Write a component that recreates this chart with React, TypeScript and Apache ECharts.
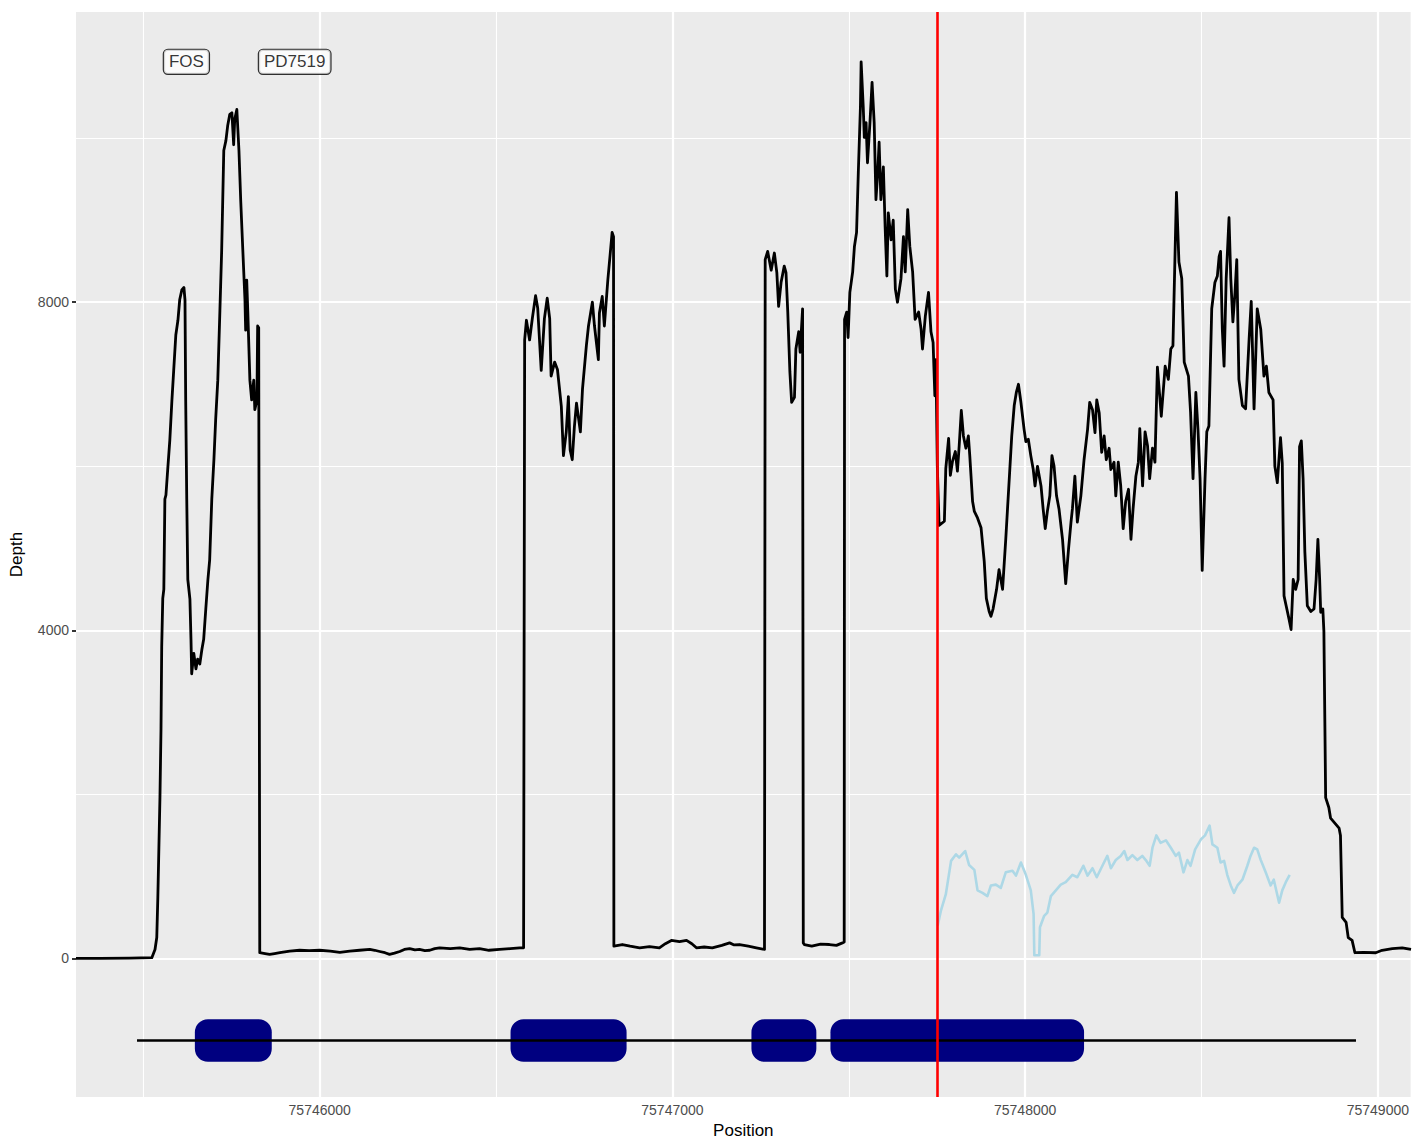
import React, { useEffect, useRef } from "react";
import * as echarts from "echarts";

// Total read depth along the locus: [position, depth]
const totalDepth: [number, number][] = [
  [75745309, 0], [75745377, 0], [75745462, 5], [75745524, 10], [75745533, 110], [75745538, 255],
  [75745541, 740], [75745544, 1350], [75745547, 1960], [75745550, 2800], [75745552, 3800],
  [75745555, 4390], [75745558, 4500], [75745561, 5600], [75745564, 5650], [75745569, 5960],
  [75745575, 6320], [75745581, 6810], [75745586, 7170], [75745592, 7600], [75745598, 7780],
  [75745603, 8030], [75745609, 8150], [75745615, 8180], [75745618, 8030], [75745620, 6810],
  [75745623, 5600], [75745626, 4620], [75745632, 4380], [75745635, 3890], [75745637, 3470],
  [75745643, 3720], [75745649, 3530], [75745654, 3650], [75745660, 3590], [75745666, 3770],
  [75745671, 3890], [75745677, 4260], [75745683, 4620], [75745688, 4860], [75745694, 5600],
  [75745700, 6080], [75745705, 6570], [75745711, 7050], [75745717, 7900], [75745722, 8630],
  [75745728, 9850], [75745734, 9970], [75745739, 10150], [75745745, 10290], [75745751, 10310],
  [75745756, 9920], [75745759, 10230], [75745765, 10350], [75745771, 9850], [75745776, 9240],
  [75745782, 8630], [75745788, 8030], [75745790, 7660], [75745793, 8270], [75745796, 7900],
  [75745802, 7050], [75745807, 6810], [75745813, 7050], [75745816, 6690], [75745822, 6810],
  [75745824, 7710], [75745827, 7690], [75745830, 70], [75745845, 60], [75745858, 50],
  [75745872, 60], [75745887, 70], [75745915, 90], [75745943, 100], [75745970, 95],
  [75746000, 100], [75746030, 90], [75746057, 75], [75746085, 90], [75746113, 100],
  [75746142, 110], [75746156, 100], [75746170, 85], [75746185, 70], [75746198, 50],
  [75746212, 65], [75746227, 85], [75746240, 110], [75746255, 120], [75746270, 105],
  [75746283, 110], [75746298, 95], [75746312, 100], [75746326, 120], [75746340, 130],
  [75746370, 120], [75746397, 130], [75746425, 110], [75746453, 120], [75746480, 100],
  [75746510, 110], [75746540, 120], [75746567, 130], [75746578, 130], [75746581, 7540],
  [75746586, 7780], [75746595, 7540], [75746603, 7810], [75746612, 8080], [75746618, 7930],
  [75746628, 7170], [75746637, 7800], [75746645, 8050], [75746652, 7800], [75746656, 7100],
  [75746666, 7270], [75746674, 7180], [75746685, 6730], [75746691, 6130], [75746699, 6420],
  [75746705, 6850], [75746710, 6200], [75746716, 6080], [75746722, 6480], [75746728, 6770],
  [75746739, 6420], [75746745, 6940], [75746756, 7470], [75746762, 7710], [75746773, 8000],
  [75746779, 7710], [75746790, 7300], [75746793, 7870], [75746801, 8070], [75746807, 7710],
  [75746817, 8280], [75746824, 8610], [75746829, 8850], [75746833, 8800], [75746834, 150],
  [75746858, 170], [75746880, 150], [75746907, 130], [75746935, 145], [75746963, 130],
  [75746980, 180], [75746997, 220], [75747020, 205], [75747040, 220], [75747055, 180],
  [75747068, 130], [75747090, 140], [75747113, 130], [75747140, 160], [75747162, 190],
  [75747175, 165], [75747190, 170], [75747215, 150], [75747238, 130], [75747261, 110],
  [75747263, 8520], [75747270, 8620], [75747280, 8390], [75747289, 8600], [75747296, 8360],
  [75747301, 7950], [75747308, 8240], [75747317, 8440], [75747322, 8360], [75747327, 7880],
  [75747333, 7150], [75747338, 6780], [75747346, 6840], [75747350, 7430], [75747358, 7640],
  [75747362, 7390], [75747369, 7920], [75747371, 190], [75747374, 170], [75747395, 150],
  [75747420, 175], [75747445, 170], [75747465, 160], [75747482, 190], [75747487, 200],
  [75747488, 7790], [75747494, 7880], [75747498, 7570], [75747503, 8120], [75747511, 8370],
  [75747516, 8680], [75747522, 8850], [75747527, 9580], [75747533, 10380], [75747535, 10930],
  [75747541, 10380], [75747544, 10010], [75747549, 10190], [75747553, 9700], [75747560, 10190],
  [75747566, 10680], [75747572, 10190], [75747577, 9250], [75747582, 9580], [75747586, 9950],
  [75747591, 9250], [75747598, 9650], [75747603, 8920], [75747608, 8320], [75747612, 9090],
  [75747620, 8760], [75747626, 9000], [75747632, 8160], [75747638, 8000], [75747648, 8290],
  [75747655, 8800], [75747660, 8370], [75747667, 9130], [75747673, 8680], [75747681, 8370],
  [75747688, 7790], [75747698, 7880], [75747705, 7670], [75747709, 7430], [75747717, 7830],
  [75747726, 8120], [75747733, 7640], [75747739, 7510], [75747744, 6860], [75747747, 7300],
  [75747751, 6000], [75747756, 5280], [75747771, 5330], [75747775, 5970], [75747783, 6340],
  [75747788, 5890], [75747794, 6060], [75747802, 6180], [75747808, 5940], [75747813, 6250],
  [75747819, 6680], [75747825, 6370], [75747832, 6220], [75747839, 6370], [75747843, 6130],
  [75747851, 5570], [75747856, 5450], [75747865, 5370], [75747875, 5250], [75747884, 4840],
  [75747890, 4390], [75747898, 4230], [75747903, 4170], [75747909, 4260], [75747919, 4500],
  [75747926, 4740], [75747936, 4500], [75747945, 5110], [75747955, 5850], [75747962, 6370],
  [75747969, 6740], [75747975, 6900], [75747981, 7000], [75747988, 6780], [75747997, 6450],
  [75748002, 6300], [75748009, 6330], [75748016, 6130], [75748023, 5960], [75748028, 5760],
  [75748035, 6000], [75748045, 5760], [75748051, 5480], [75748057, 5240], [75748063, 5450],
  [75748070, 5640], [75748076, 6130], [75748082, 6000], [75748089, 5640], [75748096, 5480],
  [75748106, 5110], [75748115, 4570], [75748123, 4990], [75748130, 5320], [75748134, 5480],
  [75748141, 5880], [75748148, 5320], [75748158, 5640], [75748167, 6080], [75748177, 6450],
  [75748183, 6780], [75748191, 6690], [75748198, 6410], [75748203, 6810], [75748210, 6650],
  [75748217, 6170], [75748224, 6370], [75748230, 6080], [75748238, 6220], [75748243, 5960],
  [75748252, 6050], [75748257, 5640], [75748264, 6050], [75748271, 5760], [75748278, 5240],
  [75748285, 5570], [75748293, 5720], [75748300, 5110], [75748306, 5480], [75748314, 5880],
  [75748321, 6050], [75748325, 6460], [75748333, 5760], [75748340, 6420], [75748347, 6250],
  [75748353, 5850], [75748361, 6220], [75748368, 6050], [75748375, 7210], [75748386, 6610],
  [75748397, 7220], [75748406, 7060], [75748413, 7430], [75748419, 7470], [75748429, 9340],
  [75748436, 8490], [75748444, 8290], [75748451, 7270], [75748463, 7100], [75748469, 6660],
  [75748476, 5850], [75748484, 6900], [75748490, 6450], [75748496, 5850], [75748502, 4730],
  [75748510, 5850], [75748515, 6420], [75748521, 6490], [75748529, 7920], [75748538, 8240],
  [75748545, 8320], [75748550, 8560], [75748554, 8620], [75748559, 7670], [75748564, 7220],
  [75748570, 8290], [75748578, 9030], [75748583, 8290], [75748589, 7760], [75748595, 8120],
  [75748600, 8520], [75748606, 7060], [75748616, 6740], [75748625, 6700], [75748635, 7550],
  [75748641, 8010], [75748649, 6700], [75748658, 7920], [75748668, 7670], [75748677, 7100],
  [75748684, 7220], [75748691, 6900], [75748703, 6810], [75748708, 6000], [75748715, 5800],
  [75748724, 6350], [75748729, 6040], [75748734, 4420], [75748740, 4300], [75748748, 4140],
  [75748754, 4010], [75748760, 4620], [75748767, 4500], [75748774, 4620], [75748778, 6240],
  [75748783, 6310], [75748788, 5850], [75748793, 4960], [75748800, 4300], [75748810, 4230],
  [75748819, 4260], [75748825, 4620], [75748830, 5110], [75748835, 4620], [75748838, 4220],
  [75748844, 4260], [75748847, 3990], [75748852, 1960], [75748861, 1840], [75748866, 1710],
  [75748890, 1590], [75748894, 1500], [75748899, 500], [75748910, 440], [75748916, 255],
  [75748927, 220], [75748935, 70], [75748960, 75], [75748994, 70], [75749012, 100],
  [75749041, 120], [75749069, 130], [75749094, 110],
];

// Second (light blue) depth track, starting at the variant
const altDepth: [number, number][] = [
  [75747752, 400], [75747761, 580], [75747775, 780], [75747790, 1190], [75747804, 1270],
  [75747813, 1230], [75747830, 1310], [75747841, 1140], [75747856, 1080], [75747865, 830],
  [75747879, 800], [75747893, 760], [75747903, 890], [75747917, 900], [75747931, 860],
  [75747945, 1050], [75747964, 1070], [75747974, 1010], [75747988, 1170], [75748002, 1020],
  [75748016, 830], [75748024, 540], [75748026, 40], [75748040, 40], [75748042, 380],
  [75748054, 520], [75748063, 560], [75748073, 760], [75748087, 830], [75748101, 900],
  [75748115, 930], [75748134, 1020], [75748148, 990], [75748165, 1130], [75748177, 1010],
  [75748191, 1100], [75748203, 990], [75748219, 1130], [75748233, 1250], [75748243, 1100],
  [75748257, 1200], [75748271, 1250], [75748281, 1310], [75748290, 1200], [75748304, 1260],
  [75748318, 1200], [75748332, 1250], [75748342, 1200], [75748353, 1130], [75748361, 1350],
  [75748372, 1500], [75748384, 1410], [75748399, 1440], [75748413, 1350], [75748427, 1250],
  [75748436, 1290], [75748449, 1050], [75748460, 1200], [75748469, 1130], [75748482, 1330],
  [75748498, 1450], [75748510, 1500], [75748523, 1620], [75748531, 1390], [75748545, 1350],
  [75748554, 1170], [75748564, 1190], [75748573, 1020], [75748583, 890], [75748592, 800],
  [75748602, 890], [75748616, 960], [75748630, 1130], [75748639, 1250], [75748649, 1350],
  [75748658, 1330], [75748668, 1200], [75748682, 1050], [75748696, 890], [75748705, 960],
  [75748720, 680], [75748729, 830], [75748739, 930], [75748750, 1020],
];

// Gene model
const exonStarts = [75745646, 75746541, 75747224, 75747448];
const exonEnds = [75745864, 75746870, 75747408, 75748167];
const exonTop = -740;
const exonBottom = -1260;
const geneSpan = [75745482, 75748938];
const geneLevel = -1000;

// Variant position
const variantPosition = 75747751;

// Labels
const labelNames = ["FOS", "PD7519"];
const labelPositions = [75745622, 75745929];
const labelDepth = 10930;

// Axes
const xMin = 75745309;
const xMax = 75749093;
const yMin = -1690;
const yMax = 11538;
const xMajor = [75746000, 75747000, 75748000, 75749000];
const xMinor = [75745500, 75746500, 75747500, 75748500];
const yMajor = [0, 4000, 8000];
const yMinor = [2000, 6000, 10000];

const FONT = "'Liberation Sans', Arial, Helvetica, sans-serif";

export default function App() {
  const ref = useRef<HTMLDivElement>(null);

  useEffect(() => {
    if (!ref.current) return;
    const chart = echarts.init(ref.current, undefined, { renderer: "svg" });

    const majorLine = { color: "#FFFFFF", width: 2.2, type: "solid" as const };
    const minorLine = { color: "#FFFFFF", width: 1.1, type: "solid" as const };
    const gridMarks = [
      ...xMinor.map((v) => ({ xAxis: v, lineStyle: minorLine })),
      ...yMinor.map((v) => ({ yAxis: v, lineStyle: minorLine })),
      ...xMajor.map((v) => ({ xAxis: v, lineStyle: majorLine })),
      ...yMajor.map((v) => ({ yAxis: v, lineStyle: majorLine })),
    ];

    const option: any = {
      animation: false,
      textStyle: { fontFamily: FONT },
      grid: {
        left: 76,
        right: 0,
        top: 12,
        bottom: 44,
        show: true,
        backgroundColor: "#EBEBEB",
        borderWidth: 0,
      },
      xAxis: {
        type: "value",
        min: xMin,
        max: xMax,
        name: "Position",
        nameLocation: "middle",
        nameGap: 24,
        nameTextStyle: { color: "#000000", fontSize: 17, fontFamily: FONT },
        axisLine: { show: false },
        axisTick: {
          show: true,
          customValues: xMajor,
          length: 4,
          lineStyle: { color: "#333333", width: 2 },
        },
        axisLabel: {
          customValues: xMajor,
          color: "#4D4D4D",
          fontSize: 14,
          fontFamily: FONT,
          margin: 6,
          formatter: (v: number) => String(v),
        },
        splitLine: { show: false },
      },
      yAxis: {
        type: "value",
        min: yMin,
        max: yMax,
        name: "Depth",
        nameLocation: "middle",
        nameGap: 51,
        nameTextStyle: { color: "#000000", fontSize: 17, fontFamily: FONT },
        axisLine: { show: false },
        axisTick: {
          show: true,
          customValues: yMajor,
          length: 4,
          lineStyle: { color: "#333333", width: 2 },
        },
        axisLabel: {
          customValues: yMajor,
          color: "#4D4D4D",
          fontSize: 14,
          fontFamily: FONT,
          margin: 7,
          formatter: (v: number) => String(v),
        },
        splitLine: { show: false },
      },
      series: [
        {
          name: "grid",
          type: "line",
          z: 1,
          silent: true,
          symbol: "none",
          data: [
            [geneSpan[0], geneLevel],
            [geneSpan[1], geneLevel],
          ],
          lineStyle: { opacity: 0 },
          markLine: {
            silent: true,
            z: 1,
            symbol: ["none", "none"],
            label: { show: false },
            data: gridMarks,
          },
        },
        {
          name: "exons",
          type: "custom",
          z: 2,
          clip: true,
          silent: true,
          encode: { x: [0, 1], y: [2, 3] },
          data: exonStarts.map((s, i) => [s, exonEnds[i], exonTop, exonBottom]),
          renderItem: (params: any, api: any) => {
            const p0 = api.coord([api.value(0), api.value(2)]);
            const p1 = api.coord([api.value(1), api.value(3)]);
            return {
              type: "rect",
              shape: {
                x: p0[0],
                y: p0[1],
                width: p1[0] - p0[0],
                height: p1[1] - p0[1],
                r: 13,
              },
              style: { fill: "#000080" },
            };
          },
        },
        {
          name: "gene",
          type: "line",
          z: 3,
          silent: true,
          symbol: "none",
          data: [
            [geneSpan[0], geneLevel],
            [geneSpan[1], geneLevel],
          ],
          lineStyle: { color: "#000000", width: 2.6 },
        },
        {
          name: "depth",
          type: "line",
          z: 4,
          silent: true,
          symbol: "none",
          data: totalDepth,
          lineStyle: { color: "#000000", width: 2.8, join: "round" },
        },
        {
          name: "alt",
          type: "line",
          z: 4,
          silent: true,
          symbol: "none",
          data: altDepth,
          lineStyle: { color: "#ADD8E6", width: 2.6, join: "round" },
        },
        {
          name: "variant",
          type: "line",
          z: 10,
          silent: true,
          symbol: "none",
          data: [],
          markLine: {
            silent: true,
            z: 10,
            symbol: ["none", "none"],
            label: { show: false },
            lineStyle: { color: "#FF0000", width: 2.6, type: "solid" },
            data: [{ xAxis: variantPosition }],
          },
        },
        {
          name: "labels",
          type: "scatter",
          z: 11,
          silent: true,
          symbolSize: 0,
          itemStyle: { color: "rgba(0,0,0,0)" },
          data: labelNames.map((n, i) => ({ name: n, value: [labelPositions[i], labelDepth] })),
          label: {
            show: true,
            position: "inside",
            formatter: (p: any) => p.name,
            color: "#000000",
            fontSize: 17,
            fontFamily: FONT,
            lineHeight: 18,
            backgroundColor: "#FFFFFF",
            borderColor: "#000000",
            borderWidth: 1.2,
            borderRadius: 4,
            padding: [3, 5, 3, 5],
          },
        },
      ],
    };

    chart.setOption(option);
    return () => chart.dispose();
  }, []);

  return (
    <div
      ref={ref}
      style={{ position: "absolute", left: 0, top: 0, width: 1412, height: 1144, background: "#FFFFFF" }}
    />
  );
}
